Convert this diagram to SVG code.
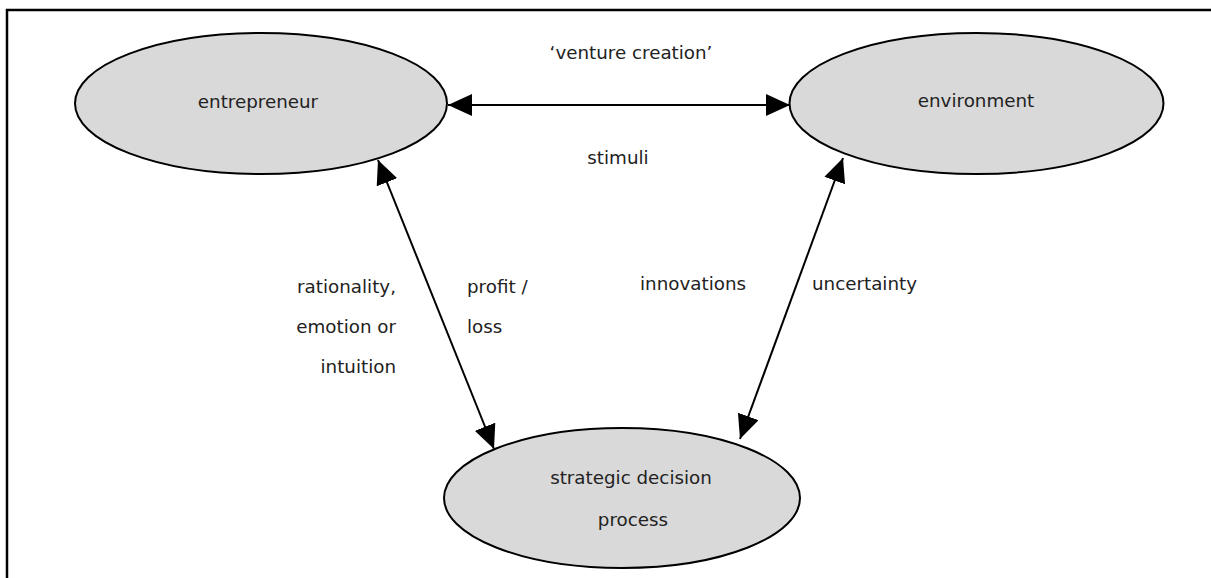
<svg xmlns="http://www.w3.org/2000/svg" width="1211" height="578" viewBox="0 0 1211 578">
  <style>
    .node { fill: #d9d9d9; stroke: #000; stroke-width: 2; }
    .lbl { font-family: "DejaVu Sans", Verdana, sans-serif; font-size: 18.3px; fill: #222; }
    .mid { text-anchor: middle; }
    .end { text-anchor: end; }
    .link { stroke: #000; stroke-width: 2; fill: none; marker-start: url(#head); marker-end: url(#head); }
  </style>
  <defs>
    <marker id="head" viewBox="0 0 24 22" refX="24" refY="11" markerWidth="24" markerHeight="22" markerUnits="userSpaceOnUse" orient="auto-start-reverse">
      <path d="M0,0 L24,11 L0,22 Z" fill="#000"/>
    </marker>
  </defs>

  <rect width="1211" height="578" fill="#fff"/>
  <!-- frame: top and left rules -->
  <path d="M7,578 L7,10 L1211,10" fill="none" stroke="#000" stroke-width="2.5"/>

  <g id="connectors">
    <line class="link" x1="448" y1="105" x2="790" y2="105"/>
    <line class="link" x1="378" y1="160" x2="494" y2="449"/>
    <line class="link" x1="843" y1="158" x2="740" y2="439"/>
  </g>

  <g id="entrepreneur">
    <ellipse class="node" cx="261" cy="103.5" rx="186" ry="70.5"/>
    <text class="lbl mid" x="258" y="108">entrepreneur</text>
  </g>

  <g id="environment">
    <ellipse class="node" cx="976.5" cy="103.5" rx="187" ry="70.5"/>
    <text class="lbl mid" x="976" y="107">environment</text>
  </g>

  <g id="strategic-decision-process">
    <ellipse class="node" cx="622" cy="498" rx="178" ry="70"/>
    <text class="lbl mid" x="631" y="484">strategic decision</text>
    <text class="lbl mid" x="633" y="526">process</text>
  </g>

  <g id="labels">
    <text class="lbl mid" x="631" y="59">‘venture creation’</text>
    <text class="lbl mid" x="618" y="164">stimuli</text>
    <text class="lbl end" x="396" y="293">rationality,</text>
    <text class="lbl end" x="396" y="333">emotion or</text>
    <text class="lbl end" x="396" y="373">intuition</text>
    <text class="lbl" x="467" y="293">profit /</text>
    <text class="lbl" x="467" y="333">loss</text>
    <text class="lbl" x="640" y="290">innovations</text>
    <text class="lbl" x="812" y="290">uncertainty</text>
  </g>
</svg>
